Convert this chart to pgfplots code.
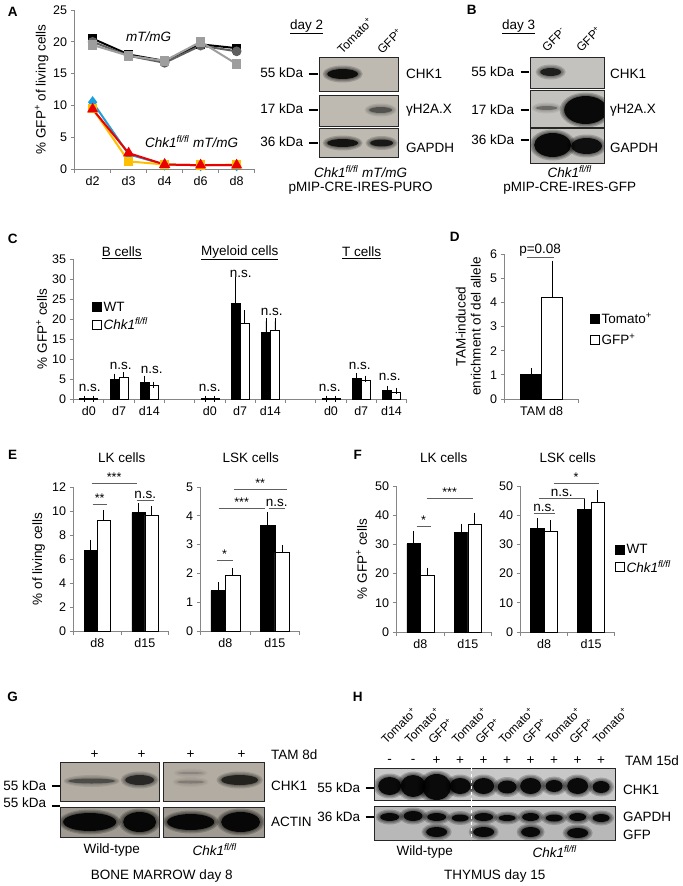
\documentclass[border=0pt]{standalone}
\usepackage{pgfplots}
\pgfplotsset{compat=1.18}
\usepackage{fontspec}
\setmainfont{Liberation Sans}

\newcommand\fsz{\fontsize{13.5}{15}\selectfont}
\newcommand\ftk{\fontsize{12.5}{14}\selectfont}
\newcommand\flb{\fontsize{12}{13}\selectfont}
\newcommand\spp[1]{\textsuperscript{#1}}
\newcommand\chk{\textit{Chk1\textsuperscript{fl/fl}}}

\definecolor{axgray}{RGB}{134,134,134}
\definecolor{dgray}{RGB}{95,95,95}
\definecolor{lgray}{RGB}{158,158,158}
\definecolor{cblue}{RGB}{30,160,220}
\definecolor{cgold}{RGB}{255,190,0}
\definecolor{cred}{RGB}{235,0,0}
\definecolor{blotA}{RGB}{190,186,178}
\definecolor{blotB}{RGB}{196,194,190}
\definecolor{blotG}{RGB}{178,172,162}
\definecolor{blotH}{RGB}{200,200,200}

\pgfplotsset{
  panel/.style={
    scale only axis, anchor=south west, clip=false,
    axis x line*=bottom, axis y line*=left,
    axis line style={axgray, line width=0.9pt},
    tick style={axgray, line width=0.9pt},
    major tick length=4pt, tick align=outside,
    ymin=0, enlargelimits=false,
    ticklabel style={font=\ftk},
    /pgf/number format/assume math mode=true,
    x tick label as interval,
    label style={font=\fsz},
    legend style={draw=none, fill=none, font=\fsz, inner sep=0pt,
      cells={anchor=west}, row sep=1pt},
  },
  sq/.style={legend image code/.code={\draw[#1, line width=0.7pt] (0pt,-4.5pt) rectangle (9pt,4.5pt);}},
  wt/.style={fill=black, draw=black, line width=0.7pt,
    error bars/.cd, y dir=plus, y explicit,
    error bar style={black, line width=0.8pt},
    error mark options={black, line width=0.8pt, mark size=3pt}},
  ko/.style={fill=white, draw=black, line width=0.7pt,
    error bars/.cd, y dir=plus, y explicit,
    error bar style={black, line width=0.8pt},
    error mark options={black, line width=0.8pt, mark size=3pt}},
}

% western blot helpers (pixel-like coordinates, y downwards, used inside px scopes)
\newcommand\band[5]{%
  \pgfmathsetmacro\bo{0.2*#5}%
  \pgfmathsetmacro\bi{0.9*#5}%
  \fill[black, opacity=\bo] (#1,-#2) ellipse ({#3+3} and {#4+2.5});
  \fill[black, opacity=\bo] (#1,-#2) ellipse ({#3+1.5} and {#4+1.2});
  \fill[black, opacity=\bo] (#1,-#2) ellipse ({#3} and {#4});
  \fill[black, opacity=\bi] (#1,-#2) ellipse ({#3-1.5} and {max(#4-1,0.6)});}
\newcommand\bbox[6]{%
  \begin{scope}
    \clip (#1,-#2) rectangle (#3,-#4);
    \fill[#5] (#1,-#2) rectangle (#3,-#4);
    #6
  \end{scope}
  \draw[black!85, line width=1pt] (#1,-#2) rectangle (#3,-#4);}
\newcommand\mk[3]{\draw[black, line width=2.5pt] (#1,-#3) -- (#2,-#3);}
\newcommand\sig[4]{%
  \draw[dgray, line width=0.8pt] (#1,-#3) -- (#2,-#3);
  \node[anchor=south, inner sep=1pt, font=\ftk] at ({(#1+#2)/2},-#3) {#4};}

\begin{document}
\begin{tikzpicture}[font=\fsz]
\path (0pt,0pt) rectangle (678pt,-886pt);

% ---------------- A: line chart
\begin{axis}[panel, at={(73pt,-169pt)}, width=180pt, height=159pt,
  xmin=-0.5, xmax=4.5, ymax=25, ytick={0,5,...,25},
  xtick={-0.5,0.5,...,4.5}, xticklabels={d2,d3,d4,d6,d8},
  ylabel={\% GFP\spp{+} of living cells},
  ylabel style={at={(axis description cs:-0.183,0.5)}, anchor=center}]
\addplot[black, line width=2pt, mark=square*, mark size=3.5pt] coordinates {
  (0,20.5) (1,18.0) (2,17.0) (3,19.6) (4,19.0)};
\addplot[dgray, line width=2pt, mark=*, mark size=3.8pt] coordinates {
  (0,20.0) (1,17.8) (2,16.7) (3,19.4) (4,18.5)};
\addplot[lgray, line width=2pt, mark=square*, mark size=3.8pt] coordinates {
  (0,19.5) (1,17.8) (2,17.0) (3,20.0) (4,16.5)};
\addplot[cblue, line width=2pt, mark=diamond*, mark size=4.5pt] coordinates {
  (0,10.5) (1,2.3) (2,0.7) (3,0.6) (4,0.6)};
\addplot[cgold, line width=2pt, mark=square*, mark size=3.8pt] coordinates {
  (0,9.5) (1,1.2) (2,0.7) (3,0.6) (4,0.7)};
\addplot[cred, line width=2pt, mark=triangle*, mark size=4.5pt] coordinates {
  (0,9.4) (1,2.5) (2,0.7) (3,0.6) (4,0.6)};
\end{axis}

% ---------------- C: grouped bars
\begin{axis}[panel, at={(72pt,-399pt)}, width=333pt, height=140pt,
  xmin=-0.5, xmax=10.5, ymax=35, ytick={0,5,...,35},
  xtick={-0.5,0.5,...,10.5}, xticklabels={d0,d7,d14,,d0,d7,d14,,d0,d7,d14},
  ybar=0pt, bar width=9pt, sq,
  ylabel={\% GFP\spp{+} cells},
  ylabel style={at={(axis description cs:-0.096,0.5)}, anchor=center},
  legend style={at={(0.054,0.71)}, anchor=north west}]
\addplot[wt] coordinates {
  (0,0.1) +- (0,0) (1,5.0) +- (0,0.6) (2,4.1) +- (0,1.0)
  (4,0.1) +- (0,0) (5,23.8) +- (0,5.9) (6,16.7) +- (0,2.8)
  (8,0.1) +- (0,0) (9,5.1) +- (0,0.7) (10,2.1) +- (0,0.5)};
\addlegendentry{WT}
\addplot[ko] coordinates {
  (0,0.1) +- (0,0) (1,5.4) +- (0,0.5) (2,3.3) +- (0,0.3)
  (4,0.1) +- (0,0) (5,18.8) +- (0,2.6) (6,17.2) +- (0,2.2)
  (8,0.1) +- (0,0) (9,4.7) +- (0,0.4) (10,1.7) +- (0,0.2)};
\addlegendentry{\chk}
\end{axis}

% ---------------- D
\begin{axis}[panel, at={(503pt,-399pt)}, width=74pt, height=145pt,
  xmin=-0.5, xmax=0.5, ymax=6, ytick={0,1,...,6},
  xtick={-0.5,0.5}, xticklabels={TAM d8},
  ybar=0pt, bar width=21pt, sq,
  ylabel={TAM-induced\\enrichment of del allele},
  ylabel style={at={(axis description cs:-0.49,0.5)}, anchor=center, align=center},
  legend style={at={(1.15,0.61)}, anchor=north west, row sep=5pt}]
\addplot[wt] coordinates {(0,1.0) +- (0,0.15)};
\addlegendentry{Tomato\spp{+}}
\addplot[ko] coordinates {(0,4.2) +- (0,1.4)};
\addlegendentry{GFP\spp{+}}
\end{axis}

% ---------------- E
\begin{axis}[panel, at={(72pt,-631pt)}, width=95pt, height=144pt,
  xmin=-0.5, xmax=1.5, ymax=12, ytick={0,2,...,12},
  xtick={-0.5,0.5,1.5}, xticklabels={d8,d15},
  ybar=0pt, bar width=13pt,
  ylabel={\% of living cells},
  ylabel style={at={(axis description cs:-0.368,0.5)}, anchor=center}]
\addplot[wt] coordinates {(0,6.7) +- (0,0.6) (1,9.85) +- (0,0.55)};
\addplot[ko] coordinates {(0,9.25) +- (0,0.6) (1,9.65) +- (0,0.5)};
\end{axis}
\begin{axis}[panel, at={(199pt,-631pt)}, width=99pt, height=144pt,
  xmin=-0.5, xmax=1.5, ymax=5, ytick={0,1,...,5},
  xtick={-0.5,0.5,1.5}, xticklabels={d8,d15},
  ybar=0pt, bar width=14.5pt]
\addplot[wt] coordinates {(0,1.4) +- (0,0.2) (1,3.67) +- (0,0.36)};
\addplot[ko] coordinates {(0,1.92) +- (0,0.17) (1,2.72) +- (0,0.15)};
\end{axis}

% ---------------- F
\begin{axis}[panel, at={(395pt,-632pt)}, width=95pt, height=146pt,
  xmin=-0.5, xmax=1.5, ymax=50, ytick={0,10,...,50},
  xtick={-0.5,0.5,1.5}, xticklabels={d8,d15},
  ybar=0pt, bar width=13.5pt,
  ylabel={\% GFP\spp{+} cells},
  ylabel style={at={(axis description cs:-0.368,0.5)}, anchor=center}]
\addplot[wt] coordinates {(0,30.2) +- (0,3.3) (1,34.0) +- (0,2.0)};
\addplot[ko] coordinates {(0,19.5) +- (0,1.5) (1,37.0) +- (0,2.8)};
\end{axis}
\begin{axis}[panel, at={(519pt,-632pt)}, width=94pt, height=146pt,
  xmin=-0.5, xmax=1.5, ymax=50, ytick={0,10,...,50},
  xtick={-0.5,0.5,1.5}, xticklabels={d8,d15},
  ybar=0pt, bar width=13.5pt, sq,
  legend style={at={(1.0,0.615)}, anchor=north west}]
\addplot[wt] coordinates {(0,35.5) +- (0,2.5) (1,42.0) +- (0,2.7)};
\addlegendentry{WT}
\addplot[ko] coordinates {(0,34.5) +- (0,2.7) (1,44.5) +- (0,3.0)};
\addlegendentry{\chk}
\end{axis}

% ================= annotations and blots, in pixel units
\begin{scope}[x=1pt, y=1pt]
\node[font=\fsz\bfseries] at (11,-12) {A};
\node at (147,-37) {\textit{mT/mG}};
\node at (190,-142) {\chk\ \textit{mT/mG}};

% A blot
\node at (305,-27) {\underline{day 2}};
\node[rotate=45, anchor=west, font=\flb] at (335,-54) {Tomato\spp{+}};
\node[rotate=45, anchor=west, font=\flb] at (375,-54) {GFP\spp{+}};
\bbox{318}{57}{397}{91}{blotA}{\band{341}{74}{17}{6}{0.95}}
\bbox{318}{95}{397}{126}{blotA}{\band{379}{110}{13}{4}{0.45}}
\bbox{318}{128}{397}{157}{blotA}{\band{341}{143}{17}{5}{0.9}\band{380}{143}{13}{4.5}{0.85}}
\mk{307}{316}{74}\mk{307}{316}{110}\mk{307}{316}{143}
\node[anchor=east] at (305,-73) {55 kDa};
\node[anchor=east] at (305,-109) {17 kDa};
\node[anchor=east] at (305,-142) {36 kDa};
\node[anchor=west] at (401,-74) {CHK1};
\node[anchor=west] at (401,-110) {γH2A.X};
\node[anchor=west] at (401,-148) {GAPDH};
\node at (359,-172) {\chk\ \textit{mT/mG}};
\node at (359,-188) {pMIP-CRE-IRES-PURO};

% B blot
\node[font=\fsz\bfseries] at (470,-10) {B};
\node at (517,-27) {\underline{day 3}};
\node[rotate=45, anchor=west, font=\flb] at (540,-52) {GFP\spp{-}};
\node[rotate=45, anchor=west, font=\flb] at (574,-52) {GFP\spp{+}};
\bbox{529}{57}{603}{88}{blotB}{\band{549}{72}{12}{5}{0.8}}
\bbox{529}{90}{603}{127}{blotB}{\band{545}{108}{12}{3}{0.35}\band{584}{110}{23}{15}{1}}
\bbox{529}{128}{603}{163}{blotB}{\band{551}{145}{20}{13}{1}\band{585}{146}{17}{9}{0.95}}
\mk{519}{527}{72}\mk{519}{527}{110}\mk{519}{527}{140}
\node[anchor=east] at (516,-72) {55 kDa};
\node[anchor=east] at (516,-110) {17 kDa};
\node[anchor=east] at (516,-140) {36 kDa};
\node[anchor=west] at (605,-74) {CHK1};
\node[anchor=west] at (605,-110) {γH2A.X};
\node[anchor=west] at (605,-148) {GAPDH};
\node at (568,-172) {\chk};
\node at (568,-188) {pMIP-CRE-IRES-GFP};

% C
\node[font=\fsz\bfseries] at (11,-239) {C};
\node at (120,-253) {\underline{B cells}};
\node at (238,-253) {\underline{Myeloid cells}};
\node at (360,-253) {\underline{T cells}};
\foreach \xx/\yy in {88/388, 119/366, 150/370, 208/388, 239/274, 270/312, 328/388, 358/366, 388/377}
  \node at (\xx,-\yy) {n.s.};

% D
\node[font=\fsz\bfseries] at (453,-237) {D};
\sig{525}{552}{257}{\fsz p=0.08}

% E
\node[font=\fsz\bfseries] at (11,-455) {E};
\node at (120,-458) {LK cells};
\node at (249,-458) {LSK cells};
\sig{90}{135}{483}{***}
\sig{91}{105}{504}{**}
\sig{135}{152}{500}{\fsz n.s.}
\sig{232}{285}{489}{**}
\sig{217}{263}{508}{***}
\sig{267}{283}{508}{\fsz n.s.}
\sig{215}{231}{560}{*}

% F
\node[font=\fsz\bfseries] at (356,-455) {F};
\node at (442,-458) {LK cells};
\node at (566,-458) {LSK cells};
\sig{415}{429}{526}{*}
\sig{425}{471}{498}{***}
\sig{532}{553}{513}{\fsz n.s.}
\sig{537}{583}{498}{\fsz n.s.}
\sig{552}{597}{483}{*}

% G blot
\node[font=\fsz\bfseries] at (11,-697) {G};
\foreach \xx in {93,140,189,240} \node at (\xx,-755) {+};
\node[anchor=west] at (266,-755) {TAM 8d};
\bbox{59}{762}{158}{801}{blotG}{\band{90}{781}{25}{3.5}{0.45}\band{138}{780}{16}{6}{0.7}}
\bbox{162}{762}{263}{801}{blotG}{\band{189}{773}{14}{2}{0.15}\band{189}{782}{15}{2.5}{0.2}\band{238}{780}{20}{6}{0.75}}
\bbox{59}{807}{158}{837}{blotG!90!black}{\band{88}{822}{28}{10}{1}\band{138}{822}{18}{11}{1}}
\bbox{162}{807}{263}{837}{blotG!90!black}{\band{189}{822}{25}{9}{1}\band{239}{822}{21}{11}{1}}
\mk{50}{58}{786}\mk{50}{58}{806}
\node[anchor=east] at (48,-786) {55 kDa};
\node[anchor=east] at (48,-803) {55 kDa};
\node[anchor=west] at (266,-786) {CHK1};
\node[anchor=west] at (266,-822) {ACTIN};
\node at (110,-850) {Wild-type};
\node at (213,-850) {\chk};
\node at (160,-876) {BONE MARROW day 8};

% H blot
\node[font=\fsz\bfseries] at (356,-697) {H};
\foreach \i/\lab/\s in {0/Tomato/-, 1/Tomato/-, 2/GFP/+, 3/Tomato/+, 4/GFP/+, 5/Tomato/+, 6/GFP/+, 7/Tomato/+, 8/GFP/+, 9/Tomato/+} {
  \pgfmathsetmacro\lx{388+23.5*\i}
  \node[rotate=45, anchor=west, font=\flb] at (\lx-9,-744) {\lab\spp{+}};
  \node at (\lx,-761) {\s};
}
\node[anchor=west] at (620,-761) {TAM 15d};
\bbox{373}{768}{614}{800}{blotH}{%
  \band{388}{786}{13}{10}{1}\band{411.5}{786}{14}{12}{1}\band{435}{787}{16}{14}{1}\band{458.5}{786}{12}{9}{1}
  \band{482}{786}{12}{9}{1}\band{505.5}{787}{11}{7.5}{1}\band{529}{786}{12}{9}{1}\band{552.5}{786}{10}{7}{1}
  \band{576}{786}{12}{9}{1}\band{599.5}{787}{10}{7}{1}}
\bbox{373}{806}{614}{840}{blotH!92!black}{%
  \band{388}{817}{11}{5}{1}\band{411.5}{816}{11}{6}{1}\band{435}{817}{11}{5}{1}\band{458.5}{818}{10}{4.5}{1}
  \band{482}{817}{11}{5}{1}\band{505.5}{818}{10}{4}{1}\band{529}{817}{10}{5}{1}\band{552.5}{818}{10}{4.5}{1}
  \band{576}{817}{10}{5}{1}\band{599.5}{818}{10}{5}{1}
  \band{435}{832}{12}{6}{1}\band{482}{832}{12}{6}{1}\band{529}{832}{11}{6}{1}\band{576}{833}{12}{6}{1}}
\draw[white, dashed, line width=1pt] (470,-768) -- (470,-840);
\mk{364}{372}{788}\mk{364}{372}{817}
\node[anchor=east] at (362,-788) {55 kDa};
\node[anchor=east] at (362,-817) {36 kDa};
\node[anchor=west] at (618,-790) {CHK1};
\node[anchor=west] at (618,-817) {GAPDH};
\node[anchor=west] at (618,-835) {GFP};
\node at (423,-852) {Wild-type};
\node at (553,-852) {\chk};
\node at (493,-876) {THYMUS day 15};
\end{scope}
\end{tikzpicture}
\end{document}
